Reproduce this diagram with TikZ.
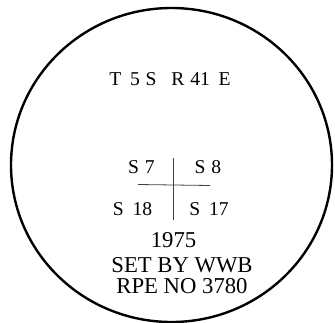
\documentclass[tikz,border=0pt]{standalone}
\usepackage{fontspec}
\setmainfont{Liberation Serif}
\usepackage{tikz}
\usetikzlibrary{positioning}

\begin{document}
\begin{tikzpicture}[
  x=1pt, y=-1pt,
  smalltext/.style={font=\fontsize{19.6}{22}\selectfont, inner sep=0pt, anchor=base},
  bigtext/.style={font=\fontsize{22.7}{25}\selectfont, inner sep=0pt, anchor=base},
  rim/.style={line width=2.4pt, black},
  crossline/.style={line width=0.8pt, black!75}
]
\useasboundingbox (0,0) rectangle (335,322);
\draw[rim] (171.5,165) ellipse [x radius=160.5, y radius=157];
\node[smalltext] (township) at (170,85) {T\hspace{0.45em}5\hspace{0.3em}S\hspace{0.75em}R\hspace{0.3em}41\hspace{0.45em}E};
\node[smalltext] (s7) at (141.5,173) {S\hspace{0.3em}7};
\node[smalltext] (s8) at (208,173) {S\hspace{0.3em}8};
\node[smalltext] (s18) at (132.5,215) {S\hspace{0.45em}18};
\node[smalltext] (s17) at (209,215) {S\hspace{0.45em}17};
\coordinate (vtop) at (173.5,158);
\coordinate (vbot) at (173.5,220);
\coordinate (hleft) at (138,184.5);
\coordinate (hright) at (210,185.5);
\draw[crossline] (vtop) -- (vbot);
\draw[crossline] (hleft) -- (hright);
\node[bigtext] (year) at (173.5,247) {1975};
\node[bigtext] (setby) at (182,272) {SET BY WWB};
\node[bigtext] (rpe) at (182,293.5) {RPE NO 3780};
\end{tikzpicture}
\end{document}
